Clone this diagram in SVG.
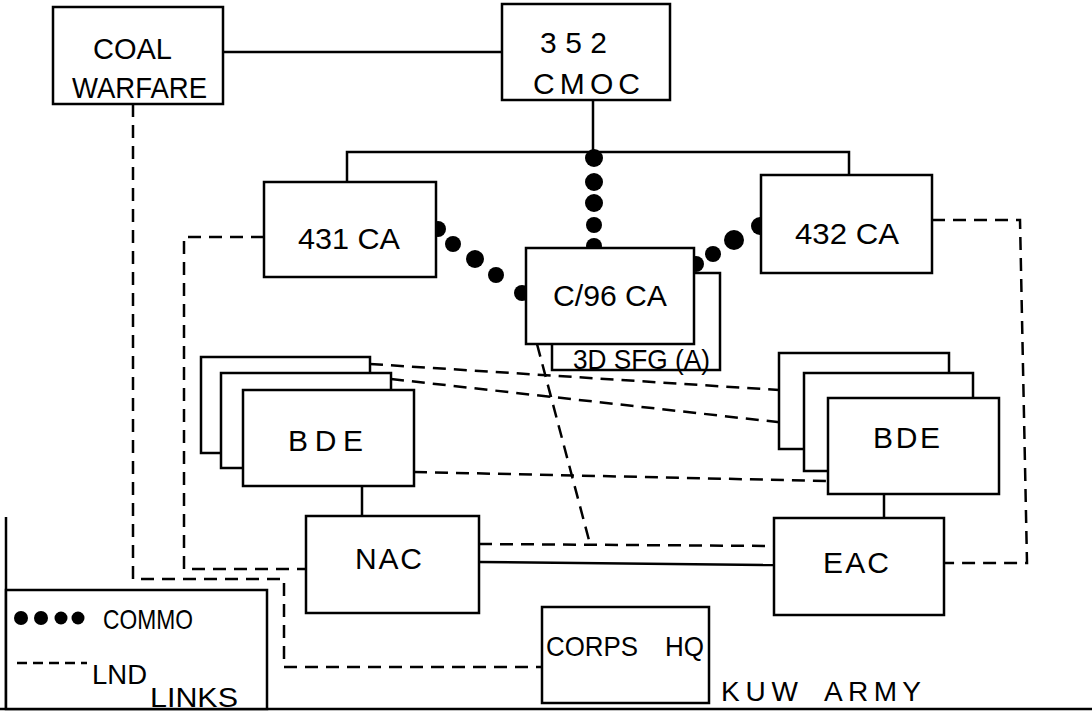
<svg xmlns="http://www.w3.org/2000/svg" width="1092" height="711" viewBox="0 0 1092 711">
<style>
.box{fill:#fff;stroke:#000;stroke-width:2.5}
.ln{fill:none;stroke:#000;stroke-width:2.5}
.dash{fill:none;stroke:#000;stroke-width:2.5;stroke-dasharray:13 8}
.dot{fill:#000}
text{font-family:"Liberation Sans",Arial,sans-serif;font-size:30px;fill:#000}
.sm{font-size:28px}
</style>
<rect width="1092" height="711" fill="#fff"/>
<g id="connectors">
  <path class="ln" d="M223,52 H502"/>
  <path class="ln" d="M593,100 V152"/>
  <path class="ln" d="M347,182 V152 H849 V175"/>
  <path class="ln" d="M362,486 V516"/>
  <path class="ln" d="M884,494 V518"/>
  <path class="ln" d="M479,562 L774,565"/>
  <path class="dash" d="M133,104 V579 H284 V667 H542"/>
  <path class="dash" d="M264,237 H184 V569 H306"/>
  <path class="dash" d="M932,220 H1020 L1027,563 H944"/>
  <path class="dash" d="M370,364 L779,390"/>
  <path class="dash" d="M391,379 L804,425"/>
  <path class="dash" d="M414,472 L828,481"/>
  <path class="dash" d="M479,544 L774,546"/>
  <path class="dash" d="M537,344 L590,544"/>
  <g id="commo-dots">
    <circle class="dot" cx="594" cy="158" r="9"/>
    <circle class="dot" cx="594" cy="182" r="9"/>
    <circle class="dot" cx="594" cy="203" r="9"/>
    <circle class="dot" cx="594" cy="225" r="8"/>
    <circle class="dot" cx="594" cy="246" r="8"/>
    <circle class="dot" cx="438" cy="229" r="8"/>
    <circle class="dot" cx="453" cy="244" r="8"/>
    <circle class="dot" cx="475" cy="259" r="9"/>
    <circle class="dot" cx="496" cy="275" r="8"/>
    <circle class="dot" cx="522" cy="293" r="8"/>
    <circle class="dot" cx="696" cy="264" r="8"/>
    <circle class="dot" cx="713" cy="254" r="8"/>
    <circle class="dot" cx="734" cy="240" r="10"/>
    <circle class="dot" cx="760" cy="226" r="9"/>
  </g>
</g>
<g id="coal-warfare">
  <rect class="box" x="53" y="7" width="170" height="97"/>
  <text x="93" y="59" textLength="79" lengthAdjust="spacingAndGlyphs">COAL</text>
  <text x="72" y="98" textLength="135" lengthAdjust="spacingAndGlyphs">WARFARE</text>
</g>
<g id="cmoc-352">
  <rect class="box" x="502" y="4" width="168" height="96"/>
  <text x="540" y="53" textLength="67" lengthAdjust="spacing">352</text>
  <text x="533" y="94" textLength="107" lengthAdjust="spacing">CMOC</text>
</g>
<g id="ca-431">
  <rect class="box" x="264" y="182" width="172" height="95"/>
  <text x="298" y="249" textLength="102" lengthAdjust="spacingAndGlyphs">431 CA</text>
</g>
<g id="ca-432">
  <rect class="box" x="761" y="175" width="171" height="98"/>
  <text x="795" y="244" textLength="104" lengthAdjust="spacingAndGlyphs">432 CA</text>
</g>
<g id="sfg-3d">
  <rect class="box" x="552" y="273" width="168" height="97"/>
  <text class="sm" x="573" y="369" textLength="137" lengthAdjust="spacingAndGlyphs">3D SFG (A)</text>
</g>
<g id="ca-c96">
  <rect class="box" x="526" y="248" width="168" height="96"/>
  <text x="553" y="306" textLength="114" lengthAdjust="spacingAndGlyphs">C/96 CA</text>
</g>
<g id="bde-left">
  <rect class="box" x="201" y="357" width="169" height="96"/>
  <rect class="box" x="221" y="373" width="170" height="95"/>
  <rect class="box" x="243" y="390" width="171" height="96"/>
  <text x="288" y="451" textLength="75" lengthAdjust="spacing">BDE</text>
</g>
<g id="bde-right">
  <rect class="box" x="779" y="353" width="170" height="96"/>
  <rect class="box" x="804" y="373" width="169" height="98"/>
  <rect class="box" x="828" y="398" width="171" height="96"/>
  <text x="873" y="448" textLength="67" lengthAdjust="spacing">BDE</text>
</g>
<g id="nac">
  <rect class="box" x="306" y="516" width="173" height="97"/>
  <text x="355" y="569" textLength="67" lengthAdjust="spacing">NAC</text>
</g>
<g id="eac">
  <rect class="box" x="774" y="518" width="170" height="97"/>
  <text x="823" y="573" textLength="66" lengthAdjust="spacing">EAC</text>
</g>
<g id="corps-hq">
  <rect class="box" x="542" y="607" width="167" height="96"/>
  <text class="sm" x="546" y="656" textLength="92" lengthAdjust="spacingAndGlyphs">CORPS</text>
  <text class="sm" x="665" y="656" textLength="39" lengthAdjust="spacingAndGlyphs">HQ</text>
</g>
<g id="kuw-army">
  <text class="sm" x="721" y="701" textLength="77" lengthAdjust="spacing">KUW</text>
  <text class="sm" x="824" y="701" textLength="97" lengthAdjust="spacing">ARMY</text>
</g>
<g id="frame">
  <path class="ln" d="M6,517 V709"/>
  <path class="ln" d="M0,709 H1092"/>
</g>
<g id="legend">
  <rect class="box" x="6" y="590" width="261" height="119"/>
  <circle class="dot" cx="21" cy="618" r="7"/>
  <circle class="dot" cx="41" cy="618" r="7"/>
  <circle class="dot" cx="61" cy="618" r="6.5"/>
  <circle class="dot" cx="78" cy="618" r="6.5"/>
  <text class="sm" x="103" y="629" textLength="90" lengthAdjust="spacingAndGlyphs">COMMO</text>
  <path class="dash" d="M17,663 H87" style="stroke-dasharray:10 6"/>
  <text class="sm" x="92" y="684" textLength="55" lengthAdjust="spacingAndGlyphs">LND</text>
  <text class="sm" x="150" y="707" textLength="88" lengthAdjust="spacingAndGlyphs">LINKS</text>
</g>
</svg>
